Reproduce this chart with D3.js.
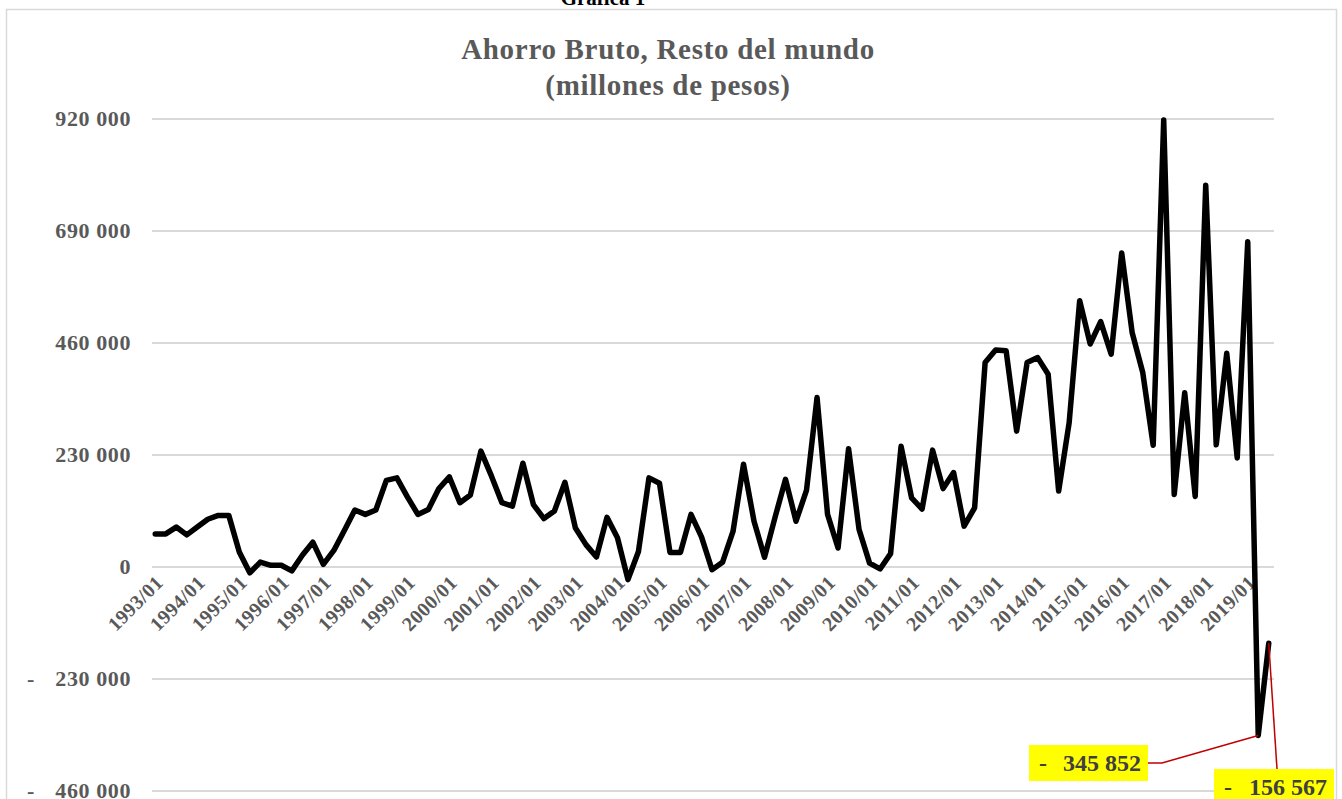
<!DOCTYPE html>
<html>
<head>
<meta charset="utf-8">
<script src="https://cdn.jsdelivr.net/npm/d3@7"></script>
<style>
  html, body { margin: 0; padding: 0; background: #ffffff; }
  svg { display: block; }
</style>
</head>
<body>
<svg id="chart" width="1342" height="799"></svg>
<script>
// ---------- DATA ----------
const startYear = 1993;
const quarterCount = 107; // 1993/01 .. 2019/03
const categories = [];
for (let i = 0; i < quarterCount; i++) {
  const y = startYear + Math.floor(i / 4);
  const q = (i % 4) + 1;
  categories.push(y + "/0" + q);
}
const ahorroBruto = [
  68000, 68000, 82000, 66000, 82000, 98000, 106000, 106000,
  31000, -12000, 10000, 3500, 3500, -8000, 24000, 51000,
  5500, 34000, 75000, 117000, 108000, 117000, 178000, 183000,
  144000, 108000, 118000, 161000, 185000, 132000, 148000, 238000,
  187000, 132000, 125000, 213000, 128000, 99500, 115000, 174000,
  80000, 46000, 20600, 102000, 60000, -26000, 32000, 183000,
  172000, 30000, 30000, 108000, 62000, -5500, 9600, 73000,
  211000, 94000, 20000, 102000, 180000, 94000, 158000, 348000,
  108000, 39000, 243000, 77000, 8000, -4000, 27500, 248000,
  142000, 119000, 240000, 161000, 194000, 84000, 121500, 420000,
  445500, 444000, 279000, 420000, 430000, 396000, 156000, 296500,
  547000, 458000, 504000, 437000, 645000, 481000, 400000, 250000,
  918000, 149000, 358000, 145000, 784000, 251000, 439000, 224000,
  668000, -345852, -156567
];
const yTicks = [-460000, -230000, 0, 230000, 460000, 690000, 920000];
const annotated = [105, 106]; // indices of labelled points
const titleLines = ["Ahorro Bruto, Resto del mundo", "(millones de pesos)"];
const topCaption = "Gráfica 1";

// ---------- LAYOUT ----------
const svg = d3.select("#chart");
const plot = { left: 150, right: 1274, top: 119, bottom: 791 };
const serif = "'Liberation Serif', 'Times New Roman', serif";
const gray = "#595959";

const x = d3.scalePoint().domain(categories).range([plot.left, plot.right]).padding(0.5);
const y = d3.scaleLinear().domain([-460000, 920000]).range([plot.bottom, plot.top]);

const fmtNum = v => d3.format(",")(Math.abs(v)).replace(/,/g, " ");

// chart frame
svg.append("rect")
  .attr("x", 6.5).attr("y", 9.5)
  .attr("width", 1330).attr("height", 800)
  .attr("fill", "#fff").attr("stroke", "#d9d9d9").attr("stroke-width", 1.5);

// caption above frame (partly cut by the page top, as in the source)
svg.append("text")
  .attr("x", 603).attr("y", 5)
  .attr("text-anchor", "middle")
  .attr("font-family", serif).attr("font-weight", "bold")
  .attr("font-size", 21).attr("fill", "#000")
  .text(topCaption);

// title
svg.append("g").selectAll("text").data(titleLines).join("text")
  .attr("x", 668).attr("y", (d, i) => 59 + i * 36)
  .attr("text-anchor", "middle")
  .attr("font-family", serif).attr("font-weight", "bold")
  .attr("font-size", 29).attr("letter-spacing", 0.7).attr("fill", gray)
  .text(d => d);

// gridlines
svg.append("g").selectAll("line").data(yTicks).join("line")
  .attr("x1", plot.left + 2).attr("x2", plot.right)
  .attr("y1", d => y(d)).attr("y2", d => y(d))
  .attr("stroke", "#d9d9d9").attr("stroke-width", 1.8);

// y-axis labels (accounting style)
const yl = svg.append("g")
  .attr("font-family", serif).attr("font-weight", "bold")
  .attr("font-size", 22).attr("letter-spacing", 0.6).attr("fill", gray);
yl.selectAll("text.num").data(yTicks).join("text")
  .attr("class", "num")
  .attr("x", 131).attr("y", d => y(d) + 7)
  .attr("text-anchor", "end")
  .text(d => fmtNum(d));
yl.selectAll("text.neg").data(yTicks.filter(d => d < 0)).join("text")
  .attr("class", "neg")
  .attr("x", 27).attr("y", d => y(d) + 7)
  .text("-");

// x-axis labels every 4 quarters
const xLabels = categories.filter((d, i) => i % 4 === 0);
svg.append("g")
  .attr("font-family", serif).attr("font-weight", "bold")
  .attr("font-size", 20).attr("letter-spacing", 0.4).attr("fill", gray)
  .selectAll("text").data(xLabels).join("text")
  .attr("text-anchor", "end")
  .attr("transform", d => `translate(${x(d) + 9},${584}) rotate(-45)`)
  .text(d => d);

// line
const line = d3.line()
  .x((d, i) => x(categories[i]))
  .y(d => y(d));
svg.append("path")
  .datum(ahorroBruto)
  .attr("d", line)
  .attr("fill", "none")
  .attr("stroke", "#000")
  .attr("stroke-width", 5.5)
  .attr("stroke-linejoin", "round")
  .attr("stroke-linecap", "round");

// annotations
const boxes = [
  { idx: annotated[0], bx: 1029, by: 745, bw: 119, bh: 36, leader: "left" },
  { idx: annotated[1], bx: 1214, by: 769, bw: 120, bh: 36, leader: "top" }
];
const ann = svg.append("g");
boxes.forEach(b => {
  const px = x(categories[b.idx]), py = y(ahorroBruto[b.idx]);
  let path;
  if (b.leader === "left") {
    const sx = b.bx + b.bw, sy = b.by + b.bh / 2;
    path = `M${sx},${sy}L${sx + 14},${sy}L${px},${py}`;
  } else {
    const sx = b.bx + b.bw / 2 + 3, sy = b.by;
    path = `M${sx},${sy}L${px},${py}`;
  }
  ann.append("path").attr("d", path)
    .attr("fill", "none").attr("stroke", "#c00000").attr("stroke-width", 1.5);
  ann.append("rect")
    .attr("x", b.bx).attr("y", b.by).attr("width", b.bw).attr("height", b.bh)
    .attr("fill", "#ffff00");
  ann.append("text")
    .attr("x", b.bx + 10).attr("y", b.by + 26)
    .attr("font-family", serif).attr("font-weight", "bold")
    .attr("font-size", 24).attr("fill", "#404040")
    .text("-");
  ann.append("text")
    .attr("x", b.bx + b.bw - 7).attr("y", b.by + 26)
    .attr("text-anchor", "end")
    .attr("font-family", serif).attr("font-weight", "bold")
    .attr("font-size", 24).attr("fill", "#404040")
    .text(fmtNum(ahorroBruto[b.idx]));
});
</script>
</body>
</html>
